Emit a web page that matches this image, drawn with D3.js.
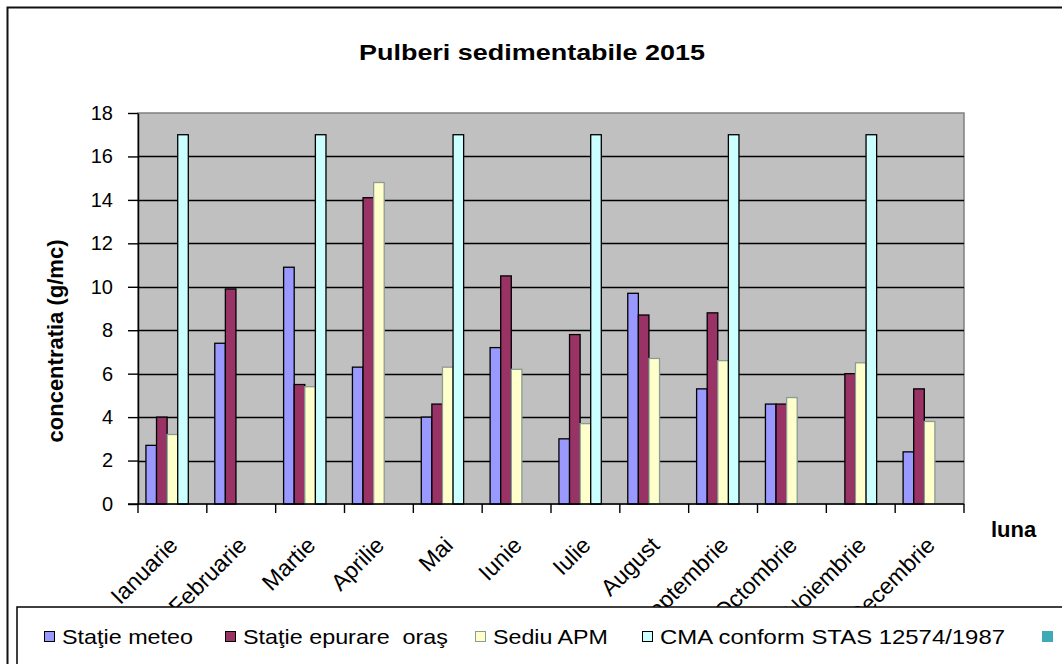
<!DOCTYPE html>
<html>
<head>
<meta charset="utf-8">
<script src="https://cdn.jsdelivr.net/npm/d3@7"></script>
<style>
  html, body { margin: 0; padding: 0; background: #fff; overflow: hidden; }
  svg { display: block; }
  text { font-family: "Liberation Sans", Arial, sans-serif; fill: #000; }
</style>
</head>
<body>
<svg id="chart" width="1062" height="664"></svg>
<script>
// ---- data ----
const months = ["Ianuarie", "Februarie", "Martie", "Aprilie", "Mai", "Iunie", "Iulie",
                "August", "Septembrie", "Octombrie", "Noiembrie", "Decembrie"];
const seriesNames = ["Staţie meteo", "Staţie epurare  oraş", "Sediu APM", "CMA conform STAS 12574/1987", ""];
const statieMeteo   = [2.7, 7.4, 10.9, 6.3, 4.0, 7.2, 3.0, 9.7, 5.3, 4.6, null, 2.4];
const statieEpurare = [4.0, 9.9, 5.5, 14.1, 4.6, 10.5, 7.8, 8.7, 8.8, 4.6, 6.0, 5.3];
const sediuAPM      = [3.2, null, 5.4, 14.8, 6.3, 6.2, 3.7, 6.7, 6.6, 4.9, 6.5, 3.8];
const cmaStas       = [17, null, 17, null, 17, null, 17, null, 17, null, 17, null];
const serie5        = [null, null, null, null, null, null, null, null, null, null, null, null];
const yTicks = [0, 2, 4, 6, 8, 10, 12, 14, 16, 18];
const title = "Pulberi sedimentabile 2015";
const yTitle = "concentratia (g/mc)";
const xTitle = "luna";

// ---- styling ----
const fills   = ["#9999FF", "#993366", "#FFFFCC", "#CCFFFF", "#3FA9B6"];
const strokes = ["#000", "#000", "#8A9C94", "#000", "#3FA9B6"];
const allSeries = [statieMeteo, statieEpurare, sediuAPM, cmaStas, serie5];

const svg = d3.select("#chart");
const plot = { left: 138, right: 964, top: 113, bottom: 504 };

// outer chart frame
svg.append("rect").attr("x", 7.5).attr("y", 7.5).attr("width", 1100).attr("height", 700)
  .attr("fill", "#fff").attr("stroke", "#111").attr("stroke-width", 2);

// title
svg.append("text").attr("x", 532).attr("y", 60).attr("text-anchor", "middle")
  .attr("font-size", 22).attr("font-weight", "bold")
  .attr("textLength", 346).attr("lengthAdjust", "spacingAndGlyphs")
  .text(title);

// scales
const x0 = d3.scaleBand().domain(months).range([plot.left, plot.right]).paddingInner(0).paddingOuter(0);
const keys = d3.range(allSeries.length);
const x1 = d3.scaleBand().domain(keys).range([0, x0.bandwidth()]).paddingInner(0).paddingOuter(0.75);
const y = d3.scaleLinear().domain([0, 18]).range([plot.bottom, plot.top]);

// plot area
svg.append("rect").attr("x", plot.left).attr("y", plot.top)
  .attr("width", plot.right - plot.left).attr("height", plot.bottom - plot.top)
  .attr("fill", "#C0C0C0").attr("stroke", "#808080").attr("stroke-width", 1.5);

// gridlines
svg.append("g").selectAll("line").data(yTicks.filter(t => t > 0 && t < 18)).join("line")
  .attr("x1", plot.left).attr("x2", plot.right)
  .attr("y1", d => Math.round(y(d)) + 0.5).attr("y2", d => Math.round(y(d)) + 0.5)
  .attr("stroke", "#000").attr("stroke-width", 1.4);

// bars
const groups = svg.append("g").selectAll("g").data(months).join("g")
  .attr("transform", d => `translate(${x0(d)},0)`);
groups.selectAll("rect")
  .data((m, i) => keys.map(k => ({ k, v: allSeries[k][i] })).filter(d => d.v != null))
  .join("rect")
  .attr("x", d => x1(d.k)).attr("width", x1.bandwidth())
  .attr("y", d => y(d.v)).attr("height", d => y(0) - y(d.v))
  .attr("fill", d => fills[d.k]).attr("stroke", d => strokes[d.k]).attr("stroke-width", 1.3);

// y axis
const yAxis = svg.append("g").attr("transform", `translate(${plot.left},0)`)
  .call(d3.axisLeft(y).tickValues(yTicks).tickSize(10).tickPadding(15).tickSizeOuter(0));
yAxis.select(".domain").attr("stroke", "#000").attr("stroke-width", 1.5);
yAxis.selectAll(".tick line").attr("stroke", "#000").attr("stroke-width", 1.4);
yAxis.selectAll(".tick text").attr("font-size", 20).attr("fill", "#222")
  .attr("font-family", "'Liberation Sans', Arial, sans-serif");

// x axis line and boundary ticks
svg.append("line").attr("x1", plot.left - 10).attr("x2", plot.right)
  .attr("y1", plot.bottom).attr("y2", plot.bottom).attr("stroke", "#000").attr("stroke-width", 1.5);
const bounds = months.map(m => x0(m)).concat([x0(months[months.length - 1]) + x0.bandwidth()]);
svg.append("g").selectAll("line").data(bounds).join("line")
  .attr("x1", d => d).attr("x2", d => d)
  .attr("y1", plot.bottom).attr("y2", plot.bottom + 9)
  .attr("stroke", "#000").attr("stroke-width", 1.4);

// x tick labels
svg.append("g").selectAll("text").data(months).join("text")
  .attr("transform", d => `translate(${x0(d) + x0.bandwidth() / 2 + 1},541) rotate(-45)`)
  .attr("text-anchor", "end").attr("dy", "0.35em")
  .attr("font-size", 23).attr("fill", "#222")
  .text(d => d);

// axis titles
svg.append("text").attr("transform", "translate(63,341) rotate(-90)")
  .attr("text-anchor", "middle").attr("font-size", 22).attr("font-weight", "bold")
  .text(yTitle);
svg.append("text").attr("x", 991).attr("y", 537)
  .attr("font-size", 22).attr("font-weight", "bold")
  .text(xTitle);

// legend box
svg.append("rect").attr("x", 17).attr("y", 607).attr("width", 1100).attr("height", 100)
  .attr("fill", "#fff").attr("stroke", "#000").attr("stroke-width", 1.5);

const legendX = [44, 225, 475, 642, 1042];
const legendTextLen = [131, 205, 115, 345, 0];
const leg = svg.append("g").selectAll("g").data(keys).join("g")
  .attr("transform", k => `translate(${legendX[k]},631)`);
leg.append("rect").attr("x", 0.5).attr("y", 0.5).attr("width", 10).attr("height", 10)
  .attr("fill", k => fills[k]).attr("stroke", k => k === 4 ? fills[k] : (k === 2 ? "#8A9C94" : "#000"))
  .attr("stroke-width", 1);
leg.filter(k => seriesNames[k] !== "").append("text")
  .attr("x", 18).attr("y", 13).attr("font-size", 21).attr("fill", "#222")
  .attr("textLength", k => legendTextLen[k]).attr("lengthAdjust", "spacingAndGlyphs")
  .attr("xml:space", "preserve").style("white-space", "pre")
  .text(k => seriesNames[k]);
</script>
</body>
</html>
